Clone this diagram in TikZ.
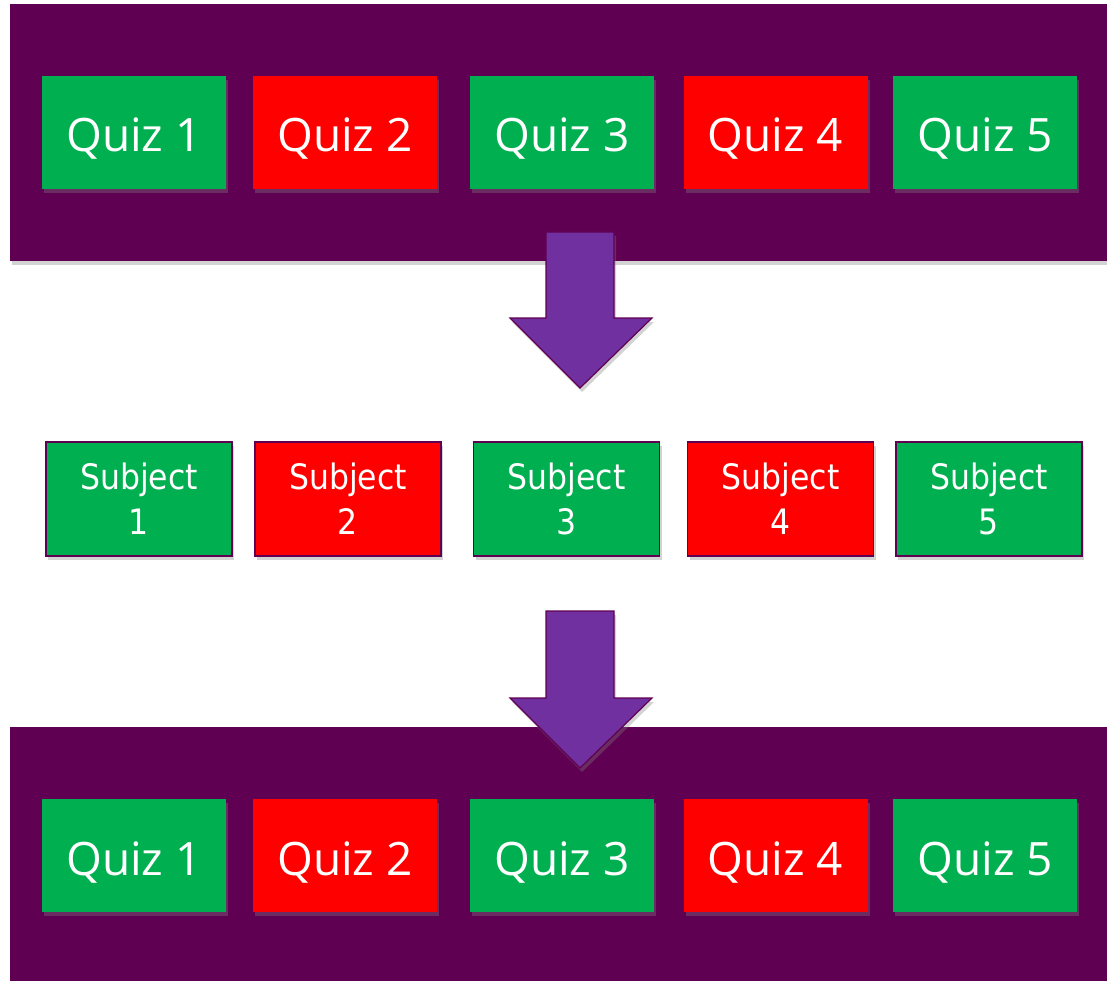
\documentclass[tikz,border=0pt]{standalone}
\usepackage{fontspec}
\setmainfont{Open Sans}
\newfontfamily\subjfont[FakeStretch=0.9]{DejaVu Sans}
\usetikzlibrary{shadows}
\definecolor{banner}{RGB}{96,0,82}
\definecolor{qgreen}{RGB}{0,176,80}
\definecolor{qred}{RGB}{255,0,0}
\definecolor{arrowfill}{RGB}{112,48,160}
\definecolor{arrowline}{RGB}{96,0,82}
\begin{document}
\begin{tikzpicture}[x=1pt,y=-1pt,
  shade/.style={drop shadow={shadow xshift=2pt,shadow yshift=-4pt,opacity=0.35}},
  bannerbox/.style={fill=banner,draw=none,shade},
  quiz/.style={minimum width=184pt,minimum height=113pt,inner sep=0pt,text=white,
    text height=39pt,text depth=0pt,
    font=\fontsize{46}{50}\selectfont,shade},
  subj/.style={minimum width=186pt,minimum height=114pt,inner sep=0pt,text=white,
    draw=banner,line width=1.2pt,align=center,
    font=\subjfont\fontsize{35}{45}\selectfont,shade},
  bigarrow/.style={fill=arrowfill,draw=arrowline,line width=1.2pt,line join=miter,shade}]
\useasboundingbox (0,0) rectangle (1107,981);
% banners
\path[bannerbox] (10,4) rectangle (1107,261);
\path[bannerbox] (10,727) rectangle (1107,981);
% top quizzes
\node[quiz,fill=qgreen] (q1) at (134,132.5) {Quiz 1};
\node[quiz,fill=qred]   (q2) at (345,132.5) {Quiz 2};
\node[quiz,fill=qgreen] (q3) at (562,132.5) {Quiz 3};
\node[quiz,fill=qred]   (q4) at (775.5,132.5) {Quiz 4};
\node[quiz,fill=qgreen] (q5) at (985,132.5) {Quiz 5};
% arrow 1
\draw[bigarrow] (546,232) -- (614,232) -- (614,318) -- (652,318) -- (580,388)
  -- (510,318) -- (546,318) -- cycle;
% subjects
\node[subj,fill=qgreen] (s1) at (139,499) {Subject\\1};
\node[subj,fill=qred]   (s2) at (348,499) {Subject\\2};
\node[subj,fill=qgreen] (s3) at (566.5,499) {Subject\\3};
\node[subj,fill=qred]   (s4) at (780.5,499) {Subject\\4};
\node[subj,fill=qgreen] (s5) at (989,499) {Subject\\5};
% arrow 2
\draw[bigarrow] (546,611) -- (614,611) -- (614,698) -- (652,698) -- (580,768)
  -- (510,698) -- (546,698) -- cycle;
% bottom quizzes
\node[quiz,fill=qgreen] (b1) at (134,855.5) {Quiz 1};
\node[quiz,fill=qred]   (b2) at (345,855.5) {Quiz 2};
\node[quiz,fill=qgreen] (b3) at (562,855.5) {Quiz 3};
\node[quiz,fill=qred]   (b4) at (775.5,855.5) {Quiz 4};
\node[quiz,fill=qgreen] (b5) at (985,855.5) {Quiz 5};
\end{tikzpicture}
\end{document}
